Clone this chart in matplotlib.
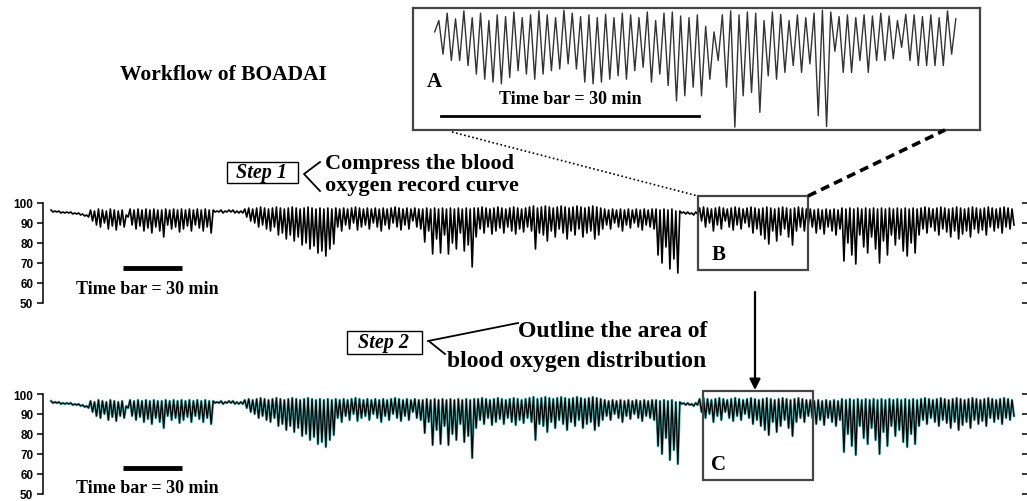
import numpy as np
import matplotlib
matplotlib.use("Agg")
import matplotlib.pyplot as plt
from matplotlib.patches import Rectangle

W, H = 1027, 502

# compressed SpO2 record, one bin per ~4 px of curve: upper / lower value in each bin
peak = [96.5, 96, 96, 95.5, 95.5, 95.5,
        95, 95, 94.5, 94,
        96.5, 96, 97, 96.5, 96, 97, 96.5, 96, 96.5,
        94,
        97, 96.5, 97, 96.5, 97, 96.5, 97, 96.5, 96.5,
        97, 96.5, 97, 96.5, 97, 96.5, 97, 96.5, 97, 96.5, 97, 96.5,
        96.5, 96, 96.5, 96, 96.5, 96.5, 96, 96,
        97, 97.5, 97, 97.5, 98, 97.5, 97, 97.5, 98, 97.5, 97, 97.5, 98, 97.5, 97, 97.5, 98, 97.5, 97, 97.5, 97, 97.5, 97,
        97.5, 97, 97.5, 97, 97.5, 98, 97.5, 97, 97.5, 97, 97.5, 97,
        97.5, 97, 97.5, 98, 97.5, 97, 97.5, 97, 97.5, 97,
        97, 97.5, 97, 97.5, 97, 97.5, 97, 97.5, 97, 97.5, 97, 97.5, 97, 97.5,
        97.5, 98, 97.5, 97, 97.5, 98, 97.5, 97, 97.5, 98, 97.5, 97, 97.5, 98, 98.5, 97.5,
        98, 98.5, 98, 97.5, 98, 98.5, 98, 97.5, 98, 98.5, 98, 97.5, 98, 98.5, 98, 97.5,
        97, 96.5, 97, 96.5, 97, 96.5, 97, 96.5, 97, 96.5, 97, 96.5, 97,
        97, 96.5, 97, 96.5, 97, 96,
        96, 95.5, 95.5, 95, 95.5,
        97.5, 98, 97.5, 97, 97.5, 98, 97.5, 97, 97.5, 98, 97.5, 97, 97.5, 98, 97.5, 97, 97.5, 98, 97.5, 97, 97.5, 98, 97.5, 97, 97.5, 98, 97.5, 97,
        97, 96.5, 97, 96.5, 97, 96.5, 97, 96.5,
        97.5, 97, 97.5, 97, 97.5, 97, 97.5, 97, 97.5, 97, 97.5, 97, 97.5, 97, 97.5, 97, 97.5, 97, 97.5, 97,
        97.5, 98, 97.5, 97, 97.5, 98, 97.5, 97, 97.5, 98, 97.5, 97, 97.5, 98, 97.5, 97, 97.5, 98, 97.5, 97, 97.5, 98, 97.5, 97]

trough = [95.5, 95.5, 95, 95, 95, 94.5,
          94.5, 94, 93.5, 93,
          91, 89, 88, 90, 87, 88.5, 86.5, 89, 88,
          93,
          89, 87, 88.5, 86, 87.5, 85, 88, 86, 83,
          89, 87, 88, 85.5, 87, 88.5, 86, 89, 87.5, 86, 88, 85,
          95.5, 95.5, 95, 95.5, 95.5, 95, 95, 95,
          93, 91, 90, 88, 89, 87, 86, 88, 84, 85, 82, 84, 81, 83, 79, 80, 77, 78.5, 75, 76, 73.5, 77, 79.5,
          88, 86, 89, 87, 90, 86.5, 88, 89, 87, 90, 88, 86,
          89, 87, 90, 88, 86.5, 89, 87, 91, 88, 87,
          80.5, 86, 74.5, 82, 75, 84, 74.5, 80, 77, 85, 76, 79, 68, 83,
          87, 85, 88, 84.5, 86, 87.5, 85, 88, 86, 84.5, 87, 85.5, 88, 86, 77, 85,
          84, 81, 86, 83, 87, 85, 82, 86, 84, 87, 83, 85, 86, 82, 84, 87,
          89, 87, 90, 88, 86, 89, 87.5, 90, 88, 86.5, 89, 88, 87,
          74, 70, 78, 67, 72, 65,
          95, 94.5, 94.5, 94, 94.5,
          91, 88, 90, 86, 89, 87, 91, 88, 86.5, 89, 87, 90, 88, 85, 87, 84, 82, 79.5, 86, 81, 84, 87, 83, 79, 86, 88, 86, 89,
          88, 85, 87, 84.5, 88, 86, 84, 87,
          71, 80, 74, 69.5, 84, 78, 75, 83, 77, 70, 81, 74, 84, 79, 82, 76, 73.5, 80, 75, 84,
          87, 85, 88, 86, 84, 87, 85.5, 83, 86, 82, 84.5, 86, 83, 87, 85, 86.5, 84, 88, 86, 87.5, 85, 88, 87, 89]

# zoomed segment A, one value per breathing cycle
seg_start = 94.5
seg_end = 96.8
seg_peak = [96.5, 97.8, 96.8, 98.2, 97.0, 97.8, 96.5, 97.5, 97.2, 98.0,
            97.0, 97.5, 98.2, 97.5, 97.0, 98.3, 97.8, 97.2, 97.5, 97.0,
            97.6, 97.0, 97.8, 97.5, 97.0, 98.0, 96.5, 97.8, 98.0, 97.3,
            97.0, 97.5, 95.5, 94.5, 97.5, 98.2, 97.5, 98.0, 97.8, 96.5,
            98.0, 97.6, 96.5, 97.5, 97.0, 97.8, 98.3, 98.0, 97.2, 97.5,
            97.0, 97.5, 97.3, 97.8, 97.3, 96.5, 97.6, 97.5, 97.2, 97.5,
            97.0, 98.2]
seg_trough = [90.6, 89.5, 89.5, 88.6, 87.1, 86.2, 85.7, 85.4, 86.5, 87.7,
              87.1, 86.2, 87.1, 87.7, 88.0, 88.9, 88.0, 85.7, 85.4, 85.7,
              86.2, 86.8, 86.2, 87.7, 88.3, 85.7, 87.1, 85.1, 82.4, 83.3,
              84.8, 83.3, 86.2, 89.5, 84.8, 77.8, 83.3, 83.9, 80.4, 86.8,
              86.2, 87.4, 88.6, 87.4, 88.9, 79.8, 77.9, 91.1, 87.4, 87.4,
              89.5, 87.4, 89.5, 89.5, 89.8, 91.8, 89.5, 88.6, 88.6, 88.6,
              88.6, 90.6]

yticks = [50, 60, 70, 80, 90, 100]

serif = ['Liberation Serif', 'DejaVu Serif']
sans = ['Liberation Sans', 'DejaVu Sans']
cyan = '#5cc3c3'
boxc = '#454545'


def frac(x0, y0, x1, y1):
    return [x0 / W, 1 - y1 / H, (x1 - x0) / W, (y1 - y0) / H]


n = min(len(peak), len(trough))
idx = np.arange(n)
zx = np.column_stack([idx - 0.25, idx + 0.25]).ravel()
zy = np.column_stack([peak[:n], trough[:n]]).ravel()

fig = plt.figure(figsize=(W / 100, H / 100), dpi=100)

# trace spans px 52..1013 inside an axes from px 43..1022
step = 961 / (n - 1)
xl = (-9 / step, (n - 1) + 9 / step)


def record_axes(top):
    ax = fig.add_axes(frac(43, top, 1022, top + 100))
    ax.set_xlim(xl)
    ax.set_ylim(50, 100)
    for s in ['top', 'bottom', 'right']:
        ax.spines[s].set_visible(False)
    ax.spines['left'].set_linewidth(1.1)
    ax.set_xticks([])
    ax.set_yticks(yticks)
    ax.tick_params(axis='y', left=True, right=True, direction='out', length=4, width=1.1, pad=3)
    for lb in ax.get_yticklabels():
        lb.set_fontfamily(sans)
        lb.set_fontweight('bold')
        lb.set_fontsize(8.5)
    ax.patch.set_alpha(0)
    return ax


ax1 = record_axes(204)
ax1.plot(zx, zy, color='k', lw=1.2, clip_on=False)

ax2 = record_axes(395)
ax2.plot(zx, zy, color=cyan, lw=1.9, clip_on=False)
ax2.plot(zx, zy, color='k', lw=0.95, clip_on=False)

# inset A
axa = fig.add_axes(frac(413, 9, 980, 131))
sx = [0.0]
sy = [seg_start]
for i in range(len(seg_trough)):
    sx += [i + 0.5, i + 1.0]
    sy += [seg_peak[i], seg_trough[i]]
sx.append(len(seg_trough) + 0.5)
sy.append(seg_end)
axa.plot(sx, sy, color='#333333', lw=1.0)
axa.set_xlim(-2.6, 65.4)
axa.set_ylim(77.3, 98.7)
axa.set_xticks([])
axa.set_yticks([])
for s in axa.spines.values():
    s.set_linewidth(1.6)
    s.set_edgecolor(boxc)

# annotation layer in pixel coordinates
ov = fig.add_axes([0, 0, 1, 1])
ov.set_xlim(0, W)
ov.set_ylim(H, 0)
ov.axis('off')
ov.patch.set_alpha(0)
ov.set_zorder(5)

bold = dict(family=serif, fontweight='bold', color='k')

ov.text(120, 75, 'Workflow of BOADAI', fontsize=15.5, va='center', ha='left', **bold)

ov.text(434, 82, 'A', fontsize=15, va='center', ha='center', **bold)
ov.text(570, 100, 'Time bar = 30 min', fontsize=13, va='center', ha='center', **bold)
ov.plot([441, 699], [117, 117], color='k', lw=2)

ov.plot([452, 698], [133, 197], color='k', lw=1.2, ls=(0, (1, 1.5)))
ov.plot([808, 945], [197, 131], color='k', lw=2.6, ls=(0, (2.5, 1.5)))

ov.add_patch(Rectangle((698, 197), 110, 74, fill=False, lw=1.6, ec=boxc))
ov.text(719, 255, 'B', fontsize=15, va='center', ha='center', **bold)
ov.add_patch(Rectangle((703, 392), 110, 89, fill=False, lw=1.6, ec=boxc))
ov.text(719, 465, 'C', fontsize=15, va='center', ha='center', **bold)
ov.annotate('', xy=(755, 391), xytext=(755, 293),
            arrowprops=dict(arrowstyle='-|>', lw=1.6, color='k', mutation_scale=16, shrinkA=0, shrinkB=0))

# step 1
ov.add_patch(Rectangle((227, 163), 71, 21, fill=False, lw=1, ec='k'))
ov.text(262, 173, 'Step 1', fontsize=14.5, style='italic', va='center', ha='center', **bold)
ov.plot([320, 304, 320], [163, 175, 192], color='k', lw=1.3)
ov.text(325, 164, 'Compress the blood', fontsize=16, va='center', ha='left', **bold)
ov.text(325, 186, 'oxygen record curve', fontsize=16, va='center', ha='left', **bold)

# step 2
ov.add_patch(Rectangle((347, 332), 75, 23, fill=False, lw=1, ec='k'))
ov.text(384, 343, 'Step 2', fontsize=14.5, style='italic', va='center', ha='center', **bold)
ov.plot([428, 518], [342, 324], color='k', lw=1.3)
ov.plot([430, 445], [343, 355], color='k', lw=1.3)
ov.text(518, 332, 'Outline the area of', fontsize=17, va='center', ha='left', **bold)
ov.text(447, 362, 'blood oxygen distribution', fontsize=17, va='center', ha='left', **bold)

# time bars under the records
for yb, yt in [(269, 290), (469, 489)]:
    ov.plot([123, 182], [yb, yb], color='k', lw=3.5, solid_capstyle='butt')
    ov.text(147, yt, 'Time bar = 30 min', fontsize=13, va='center', ha='center', **bold)

fig.savefig('out.png', dpi=100)
